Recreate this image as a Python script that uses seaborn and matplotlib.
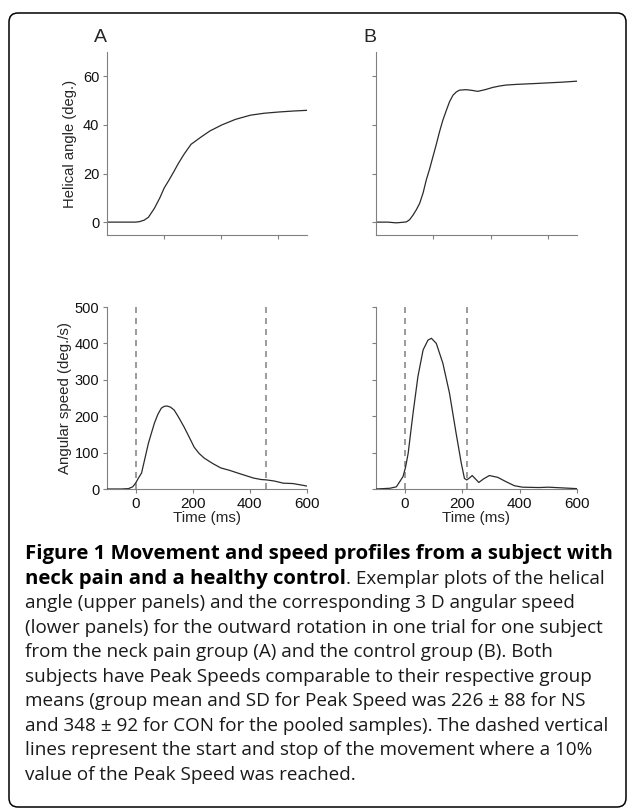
import numpy as np
import pandas as pd
import matplotlib
matplotlib.use("Agg")
import matplotlib.pyplot as plt
import matplotlib.transforms as mtransforms
from matplotlib.patches import FancyBboxPatch
import seaborn as sns

# ---- data ----
# upper panels: helical angle (deg.) vs time (ms)
angle_t_A = [-100, -50, 0, 14, 30, 45, 66, 85, 100, 118, 135, 149, 170, 194, 229, 260,
             302, 350, 402, 450, 500, 550, 600]
angle_A = [0, 0, 0, 0.2, 0.8, 2, 5.7, 10, 14, 17.5, 21, 24, 28, 32, 35, 37.5,
           40, 42.3, 44, 44.8, 45.3, 45.7, 46]

angle_t_B = [-100, -60, -29, -10, 6, 17, 29, 40, 52, 64, 75, 87, 98, 110, 121, 133, 145,
             156, 168, 180, 191, 214, 235, 254, 280, 306, 330, 353, 393, 450, 500, 550, 600]
angle_B = [0, 0, -0.3, -0.1, 0.1, 1.0, 2.9, 5.0, 7.7, 12.0, 17.3, 22.0, 26.8, 32.0, 37.1,
           42.0, 46.0, 49.5, 52.2, 53.6, 54.3, 54.5, 54.2, 53.8, 54.5, 55.4, 56.0, 56.4,
           56.7, 57.0, 57.3, 57.6, 58.0]

# lower panels: angular speed (deg./s) vs time (ms)
speed_t_A = [-100, -50, -25, -10, 0, 10, 21, 33, 45, 56, 66, 78, 90, 100, 110, 122, 135,
             150, 170, 188, 205, 222, 240, 270, 298, 330, 357, 385, 413, 440, 458, 485,
             517, 550, 580, 600]
speed_A = [0, 0, 1, 6, 16, 30, 44, 85, 126, 155, 181, 205, 222, 227, 228, 225, 217,
           198, 170, 142, 115, 98, 85, 70, 58, 51, 44, 37, 30, 26, 25, 22,
           16, 15, 11, 8]

speed_t_B = [-100, -52, -29, -6, 3, 12, 20, 29, 46, 64, 81, 93, 110, 133, 156, 179, 197,
             208, 216, 225, 235, 246, 258, 275, 295, 324, 353, 382, 410, 468, 500, 550, 600]
speed_B = [0, 2, 6, 34, 60, 98, 150, 208, 309, 382, 409, 414, 400, 345, 263, 153, 71,
           29, 25, 30, 37, 28, 18, 28, 37, 32, 20, 9, 5, 4, 5, 3, 1]

# movement start / stop (10% of peak speed)
onset = {"A": [0, 455], "B": [0, 216]}

panel_labels = ["A", "B"]
angle_ticks = [0, 20, 40, 60]
speed_ticks = [0, 100, 200, 300, 400, 500]
time_ticks_upper = [100, 300, 500]
time_ticks_lower = [0, 200, 400, 600]

caption_bold_1 = "Figure 1 Movement and speed profiles from a subject with"
caption_bold_2 = "neck pain and a healthy control"
caption_rest_2 = ". Exemplar plots of the helical"
caption_lines = [
    "angle (upper panels) and the corresponding 3 D angular speed",
    "(lower panels) for the outward rotation in one trial for one subject",
    "from the neck pain group (A) and the control group (B). Both",
    "subjects have Peak Speeds comparable to their respective group",
    "means (group mean and SD for Peak Speed was 226 \u00b1 88 for NS",
    "and 348 \u00b1 92 for CON for the pooled samples). The dashed vertical",
    "lines represent the start and stop of the movement where a 10%",
    "value of the Peak Speed was reached.",
]

# ---- style ----
sns.set_style("ticks")
plt.rcParams["font.family"] = ["Liberation Sans", "DejaVu Sans"]
plt.rcParams["font.size"] = 10

W, H = 629, 810
fig = plt.figure(figsize=(W / 100, H / 100), dpi=100)
renderer = fig.canvas.get_renderer()

spine_col = "#808080"
line_col = "#2b2b2b"


def px_axes(x0, y0, x1, y1):
    # pixel box (top-left origin) -> axes
    return fig.add_axes([x0 / W, 1 - y1 / H, (x1 - x0) / W, (y1 - y0) / H])


def style(ax):
    sns.despine(ax=ax)
    for s in ["left", "bottom"]:
        ax.spines[s].set_color(spine_col)
        ax.spines[s].set_linewidth(0.8)
    ax.tick_params(colors=spine_col, labelcolor="#111111", length=3, width=0.8, pad=2.5)
    ax.tick_params(axis="y", labelsize=10.5)
    ax.tick_params(axis="x", labelsize=11)


ax_up_A = px_axes(107, 52, 307, 235)
ax_up_B = px_axes(376, 52, 577, 235)
ax_lo_A = px_axes(107, 307, 307, 489)
ax_lo_B = px_axes(376, 307, 577, 489)

for ax, t, a in [(ax_up_A, angle_t_A, angle_A), (ax_up_B, angle_t_B, angle_B)]:
    df = pd.DataFrame({"t": t, "v": a})
    sns.lineplot(data=df, x="t", y="v", ax=ax, color=line_col, linewidth=0.9,
                 estimator=None, sort=False)
    ax.set_xlim(-100, 600)
    ax.set_ylim(-5.3, 70)
    ax.set_xticks(time_ticks_upper)
    ax.set_xticklabels([])
    ax.set_yticks(angle_ticks)
    ax.set_xlabel("")
    ax.set_ylabel("")
    style(ax)

for key, ax, t, s in [("A", ax_lo_A, speed_t_A, speed_A), ("B", ax_lo_B, speed_t_B, speed_B)]:
    df = pd.DataFrame({"t": t, "v": s})
    for x in onset[key]:
        ax.axvline(x, color="#8a8a8a", linewidth=1.2, linestyle=(0, (3.6, 3.0)), zorder=1)
    sns.lineplot(data=df, x="t", y="v", ax=ax, color=line_col, linewidth=0.9,
                 estimator=None, sort=False, zorder=3)
    ax.set_xlim(-100, 600)
    ax.set_ylim(0, 500)
    ax.set_xticks(time_ticks_lower)
    ax.set_yticks(speed_ticks)
    ax.set_ylabel("")
    ax.set_xlabel("Time (ms)", fontsize=11, labelpad=0)
    style(ax)

ax_up_B.set_yticklabels([])
ax_lo_B.set_yticklabels([])
ax_up_A.set_ylabel("Helical angle (deg.)", fontsize=10.6, labelpad=4)
ax_lo_A.set_ylabel("Angular speed (deg./s)", fontsize=10.8, labelpad=2)

fig.text(100 / W, 1 - 37 / H, panel_labels[0], fontsize=14, ha="center", va="center")
fig.text(370 / W, 1 - 37 / H, panel_labels[1], fontsize=14, ha="center", va="center")

# ---- rounded frame ----
frame = FancyBboxPatch((9, 3), 617, 794, boxstyle="round,pad=0,rounding_size=9",
                       transform=mtransforms.IdentityTransform(), fill=False,
                       edgecolor="black", linewidth=1.1)
fig.patches.append(frame)

# ---- caption ----
cap_font = ["Open Sans", "DejaVu Sans"]
x0 = 25 / W
base0 = 559
step = 24.55


def y_of(i):
    return 1 - (base0 + i * step) / H


def fit_size(text, weight, target_px, probe=12.0):
    # font size so that the rendered line is target_px wide
    t = fig.text(0, 0, text, fontsize=probe, family=cap_font, weight=weight)
    w = t.get_window_extent(renderer=renderer).width
    t.remove()
    return probe * target_px / w


bold_size = fit_size(caption_bold_1, "bold", 590)
reg_size = fit_size(caption_lines[1], "normal", 574)

fig.text(x0, y_of(0), caption_bold_1, fontsize=bold_size, family=cap_font,
         weight="bold", va="baseline", color="black")
t_b = fig.text(x0, y_of(1), caption_bold_2, fontsize=bold_size, family=cap_font,
               weight="bold", va="baseline", color="black")
bb = t_b.get_window_extent(renderer=renderer)
fig.text(bb.x1 / W, y_of(1), caption_rest_2, fontsize=reg_size, family=cap_font,
         va="baseline", color="#1a1a1a")
for i, line in enumerate(caption_lines):
    fig.text(x0, y_of(i + 2), line, fontsize=reg_size, family=cap_font,
             va="baseline", color="#1a1a1a")

fig.savefig("out.png", dpi=100)
